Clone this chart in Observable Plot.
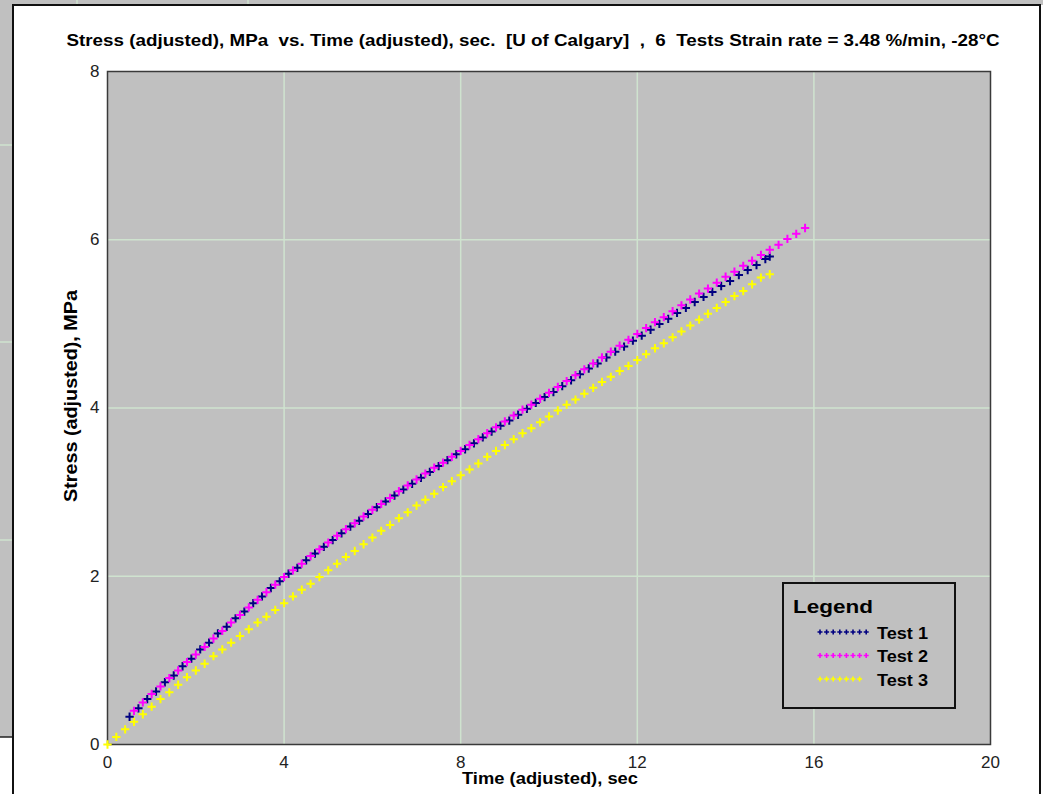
<!DOCTYPE html>
<html><head><meta charset="utf-8">
<script src="https://cdn.jsdelivr.net/npm/d3@7"></script>
<script src="https://cdn.jsdelivr.net/npm/@observablehq/plot@0.6"></script>
<style>body{margin:0;background:#fff;overflow:hidden} svg{display:block}</style>
</head><body><div id="chart"></div>
<script>
const titleText = "Stress (adjusted), MPa  vs. Time (adjusted), sec.  [U of Calgary]  ,  6  Tests Strain rate = 3.48 %/min, -28°C";
const xLabel = "Time (adjusted), sec";
const yLabel = "Stress (adjusted), MPa";
const seriesNames = ["Test 1", "Test 2", "Test 3"];
const seriesColors = ["#000080", "#ff00ff", "#ffff00"];
const xTicks = [0, 4, 8, 12, 16, 20];
const yTicks = [0, 2, 4, 6, 8];

const test1Time = [0.5,0.7,0.9,1.1,1.3,1.5,1.7,1.9,2.1,2.3,2.5,2.7,2.9,3.1,3.3,3.5,3.7,3.9,4.1,4.3,4.5,4.7,4.9,5.1,5.3,5.5,5.7,5.9,6.1,6.3,6.5,6.7,6.9,7.1,7.3,7.5,7.7,7.9,8.1,8.3,8.5,8.7,8.9,9.1,9.3,9.5,9.7,9.9,10.1,10.3,10.5,10.7,10.9,11.1,11.3,11.5,11.7,11.9,12.1,12.3,12.5,12.7,12.9,13.1,13.3,13.5,13.7,13.9,14.1,14.3,14.5,14.7,14.9,15.0];
const test1Stress = [0.33,0.43,0.54,0.63,0.74,0.82,0.93,1.02,1.13,1.21,1.32,1.40,1.50,1.58,1.68,1.76,1.86,1.94,2.03,2.10,2.19,2.27,2.35,2.43,2.51,2.59,2.66,2.74,2.82,2.89,2.96,3.03,3.10,3.17,3.24,3.31,3.38,3.45,3.51,3.58,3.65,3.72,3.79,3.85,3.92,3.99,4.06,4.13,4.19,4.26,4.33,4.40,4.47,4.53,4.60,4.67,4.73,4.80,4.86,4.93,5.00,5.06,5.13,5.19,5.26,5.32,5.38,5.45,5.51,5.58,5.64,5.70,5.77,5.80];

const test2Time = [0.6,0.8,1.0,1.2,1.4,1.6,1.8,2.0,2.2,2.4,2.6,2.8,3.0,3.2,3.4,3.6,3.8,4.0,4.2,4.4,4.6,4.8,5.0,5.2,5.4,5.6,5.8,6.0,6.2,6.4,6.6,6.8,7.0,7.2,7.4,7.6,7.8,8.0,8.2,8.4,8.6,8.8,9.0,9.2,9.4,9.6,9.8,10.0,10.2,10.4,10.6,10.8,11.0,11.2,11.4,11.6,11.8,12.0,12.2,12.4,12.6,12.8,13.0,13.2,13.4,13.6,13.8,14.0,14.2,14.4,14.6,14.8,15.0,15.2,15.4,15.6,15.8];
const test2Stress = [0.40,0.50,0.60,0.69,0.79,0.88,0.98,1.07,1.16,1.26,1.35,1.45,1.54,1.63,1.72,1.81,1.90,1.99,2.07,2.15,2.24,2.32,2.40,2.48,2.56,2.63,2.71,2.79,2.86,2.93,3.01,3.08,3.15,3.22,3.29,3.35,3.42,3.49,3.56,3.63,3.70,3.77,3.84,3.91,3.98,4.04,4.11,4.18,4.25,4.32,4.39,4.46,4.53,4.60,4.67,4.74,4.81,4.88,4.95,5.02,5.08,5.15,5.22,5.29,5.36,5.42,5.49,5.56,5.62,5.69,5.75,5.82,5.88,5.94,6.01,6.07,6.14];

const test3Time = [0,0.2,0.4,0.6,0.8,1.0,1.2,1.4,1.6,1.8,2.0,2.2,2.4,2.6,2.8,3.0,3.2,3.4,3.6,3.8,4.0,4.2,4.4,4.6,4.8,5.0,5.2,5.4,5.6,5.8,6.0,6.2,6.4,6.6,6.8,7.0,7.2,7.4,7.6,7.8,8.0,8.2,8.4,8.6,8.8,9.0,9.2,9.4,9.6,9.8,10.0,10.2,10.4,10.6,10.8,11.0,11.2,11.4,11.6,11.8,12.0,12.2,12.4,12.6,12.8,13.0,13.2,13.4,13.6,13.8,14.0,14.2,14.4,14.6,14.8,15.0];
const test3Stress = [0,0.09,0.18,0.27,0.36,0.45,0.54,0.62,0.71,0.80,0.88,0.96,1.05,1.13,1.21,1.29,1.37,1.45,1.52,1.60,1.68,1.76,1.84,1.91,1.99,2.07,2.15,2.23,2.30,2.38,2.46,2.54,2.61,2.69,2.76,2.84,2.91,2.98,3.06,3.13,3.20,3.27,3.34,3.42,3.49,3.56,3.63,3.70,3.76,3.83,3.90,3.97,4.04,4.10,4.17,4.24,4.31,4.37,4.44,4.50,4.57,4.64,4.71,4.77,4.84,4.91,4.98,5.05,5.12,5.19,5.26,5.33,5.39,5.47,5.55,5.59];

const times = [test1Time, test2Time, test3Time];
const stresses = [test1Stress, test2Stress, test3Stress];
const rows = seriesNames.flatMap((name, k) => times[k].map((t, i) => ({series: name, t, s: stresses[k][i]})));

const FONT = "'Liberation Sans', Arial, sans-serif";
const drawOrder = [2, 0, 1];

const svg = Plot.plot({
  width: 1043, height: 794,
  marginLeft: 107, marginRight: 53, marginTop: 71, marginBottom: 50,
  style: {background: "white", fontFamily: FONT, fontSize: "17px", color: "#111"},
  x: {domain: [0, 20], ticks: xTicks, label: null},
  y: {domain: [0, 8], ticks: yTicks, label: null},
  marks: [
    Plot.frame({fill: "#c0c0c0"}),
    Plot.gridX(xTicks.filter(v => v > 0 && v < 20), {stroke: "#cfe3cf", strokeOpacity: 1, strokeWidth: 1.5}),
    Plot.gridY(yTicks.filter(v => v > 0 && v < 8), {stroke: "#cfe3cf", strokeOpacity: 1, strokeWidth: 1.5}),
    Plot.frame({stroke: "#3a3a3a", strokeWidth: 1.5}),
    ...drawOrder.map(k => Plot.dot(rows.filter(d => d.series === seriesNames[k]), {
      x: "t", y: "s", symbol: "plus", stroke: seriesColors[k], r: 2.8, strokeWidth: 2
    })),
    Plot.axisX(xTicks, {tickSize: 0, tickPadding: 11, fontSize: 17, fill: "#222", letterSpacing: "1.5px", tickFormat: d => String(d)}),
    Plot.axisY(yTicks, {tickSize: 0, tickPadding: 8, fontSize: 17, fill: "#222", tickFormat: d => String(d)})
  ]
});

const s = d3.select(svg);
// background window remnants and panel border
const bg = s.insert("g", ":first-child");
bg.append("rect").attr("x", 0).attr("y", 0).attr("width", 13).attr("height", 737).attr("fill", "#c0c0c0");
bg.append("rect").attr("x", 0).attr("y", 0).attr("width", 1043).attr("height", 5).attr("fill", "#c0c0c0");
[145, 342, 540].forEach(y => bg.append("line").attr("x1", 0).attr("x2", 13).attr("y1", y).attr("y2", y).attr("stroke", "#cfe3cf").attr("stroke-width", 1.5));
[77, 248].forEach(x => bg.append("line").attr("x1", x).attr("x2", x).attr("y1", 0).attr("y2", 5).attr("stroke", "#cfe3cf").attr("stroke-width", 1.5));
bg.append("line").attr("x1", 0).attr("x2", 13).attr("y1", 737).attr("y2", 737).attr("stroke", "#222").attr("stroke-width", 1.5);
bg.append("path").attr("d", "M13,794V5H1040V794").attr("fill", "none").attr("stroke", "#111").attr("stroke-width", 2);

const txt = s.append("g").attr("font-family", FONT).attr("font-weight", "bold").attr("fill", "#000");
txt.append("text").attr("x", 533).attr("y", 46).attr("text-anchor", "middle").attr("font-size", 17)
  .attr("textLength", 933).attr("lengthAdjust", "spacingAndGlyphs").attr("xml:space", "preserve").style("white-space", "pre").text(titleText);
txt.append("text").attr("x", 550).attr("y", 784).attr("text-anchor", "middle").attr("font-size", 17)
  .attr("textLength", 176).attr("lengthAdjust", "spacingAndGlyphs").text(xLabel);
txt.append("text").attr("transform", "translate(77,396) rotate(-90)").attr("text-anchor", "middle").attr("font-size", 18)
  .attr("textLength", 212).attr("lengthAdjust", "spacingAndGlyphs").text(yLabel);

// legend
const lg = s.append("g").attr("font-family", FONT).attr("font-weight", "bold").attr("text-anchor", "start").attr("fill", "#000");
lg.append("rect").attr("x", 783).attr("y", 583).attr("width", 172).attr("height", 125).attr("fill", "#c0c0c0").attr("stroke", "#111").attr("stroke-width", 2);
lg.append("text").attr("x", 793).attr("y", 613).attr("text-anchor", "start").attr("font-size", 19).attr("textLength", 80).attr("lengthAdjust", "spacingAndGlyphs").text("Legend");
seriesNames.forEach((name, k) => {
  const yy = 632 + k * 23.5;
  const n = k === 2 ? 7 : 8;
  for (let i = 0; i < n; i++) {
    const xx = 820 + i * 6.6;
    lg.append("path").attr("d", `M${xx - 2.5},${yy}h5M${xx},${yy - 2.5}v5`).attr("stroke", seriesColors[k]).attr("stroke-width", 1.6);
  }
  lg.append("text").attr("x", 877).attr("y", yy + 6.5).attr("text-anchor", "start").attr("font-size", 17).attr("textLength", 51).attr("lengthAdjust", "spacingAndGlyphs").text(name);
});

document.getElementById("chart").appendChild(svg);
</script></body></html>
